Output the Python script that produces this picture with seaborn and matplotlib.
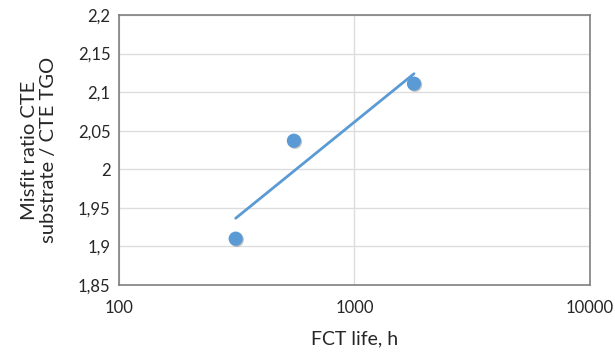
import numpy as np
import pandas as pd
import matplotlib
matplotlib.use("Agg")
import matplotlib.pyplot as plt
import matplotlib.patheffects as pe
from matplotlib.ticker import FixedLocator, FuncFormatter, NullLocator
import seaborn as sns

# Data
fct_life_h = [313, 553, 1789]
misfit_ratio = [1.910, 2.037, 2.111]

y_ticks = [1.85, 1.9, 1.95, 2.0, 2.05, 2.1, 2.15, 2.2]
x_ticks = [100, 1000, 10000]

BLUE = "#5B9BD5"

sns.set_theme(style="white")
plt.rcParams["font.family"] = ["Lato", "DejaVu Sans"]

df = pd.DataFrame({"life": fct_life_h, "ratio": misfit_ratio})

fig = plt.figure(figsize=(6.15, 3.54), dpi=100)
ax = fig.add_axes([0.1935, 0.195, 0.7658, 0.7626])

# logarithmic trend line (least squares on log10 x)
slope, intercept = np.polyfit(np.log10(df["life"]), df["ratio"], 1)
trend_x = np.array([df["life"].min(), df["life"].max()])
trend_y = slope * np.log10(trend_x) + intercept
sns.lineplot(x=trend_x, y=trend_y, ax=ax, color=BLUE, linewidth=2.0, zorder=3)

sns.scatterplot(
    data=df, x="life", y="ratio", ax=ax, s=105, color=BLUE,
    edgecolor="none", zorder=4,
    path_effects=[pe.SimplePatchShadow(offset=(0.8, -0.8), shadow_rgbFace="#404040", alpha=0.3), pe.Normal()],
)

ax.set_xscale("log")
ax.set_xlim(100, 10000)
ax.set_ylim(1.85, 2.2)
ax.xaxis.set_major_locator(FixedLocator(x_ticks))
ax.xaxis.set_minor_locator(NullLocator())
ax.xaxis.set_major_formatter(FuncFormatter(lambda v, p: f"{int(v)}"))
ax.yaxis.set_major_locator(FixedLocator(y_ticks))
ax.yaxis.set_major_formatter(FuncFormatter(lambda v, p: f"{v:g}".replace(".", ",")))

ax.grid(True, color="#DDDDDD", linewidth=1.0)
ax.set_axisbelow(True)
for s in ax.spines.values():
    s.set_color("#7F7F7F")
    s.set_linewidth(1.2)

ax.tick_params(axis="both", length=0, labelsize=12, colors="#262626")
ax.tick_params(axis="x", pad=11)
ax.tick_params(axis="y", pad=6)

ax.set_xlabel("FCT life, h", fontsize=14, color="#262626", labelpad=10)
ax.set_ylabel("Misfit ratio CTE\nsubstrate / CTE TGO", fontsize=14.5, color="#262626",
              labelpad=15, linespacing=1.15)

fig.savefig("out.png", dpi=100)
